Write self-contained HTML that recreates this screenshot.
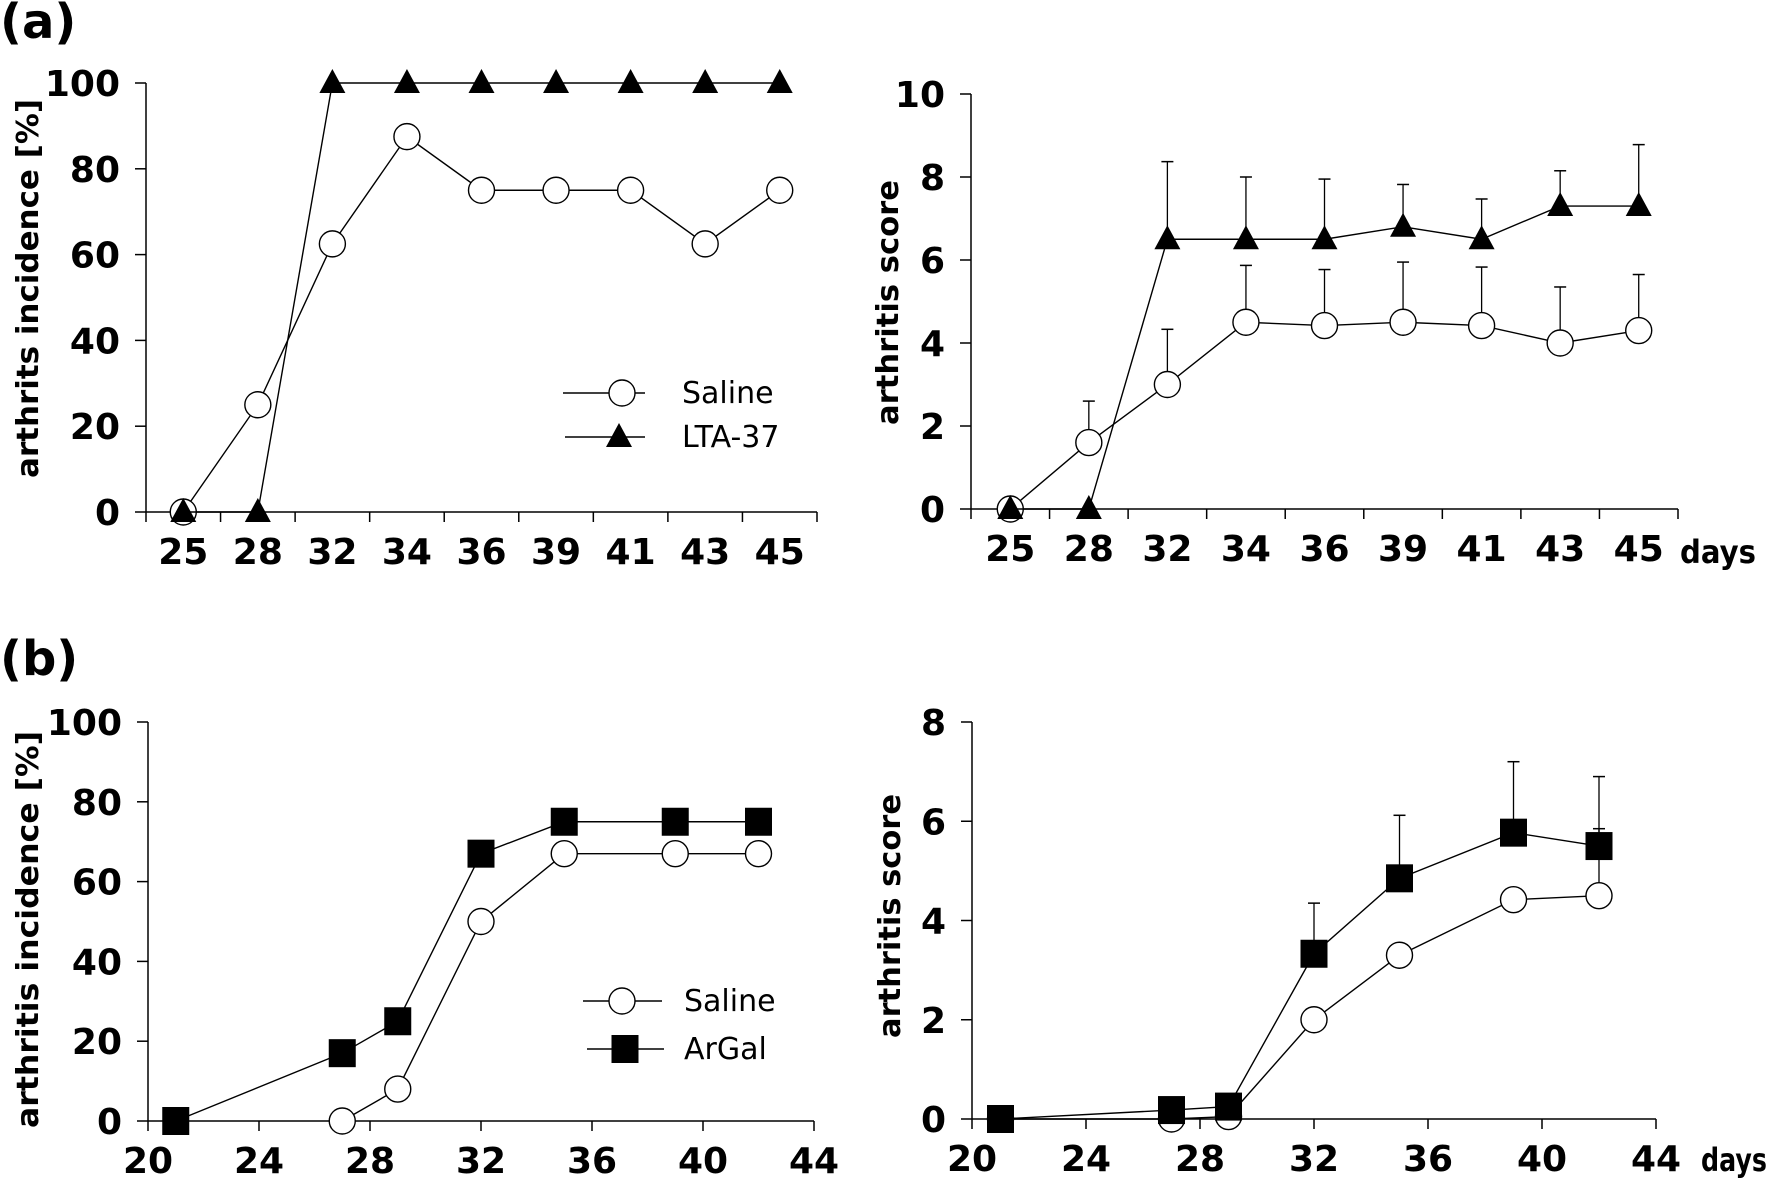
<!DOCTYPE html>
<html><head><meta charset="utf-8"><style>
html,body{margin:0;padding:0;background:#fff;overflow:hidden;}
svg{display:block;}
text{font-family:"DejaVu Sans","Liberation Sans",sans-serif;}
</style></head>
<body>
<svg id="fig" width="1775" height="1179" viewBox="0 0 1775 1179" xmlns="http://www.w3.org/2000/svg">
<text x="0" y="38" font-family="Liberation Sans, sans-serif" font-weight="bold" font-size="48">(a)</text>
<text x="0" y="675" font-family="Liberation Sans, sans-serif" font-weight="bold" font-size="48">(b)</text>
</svg>
<script>
// Panel a (categorical days)
const catDaysA = ['25','28','32','34','36','39','41','43','45'];
const incSalineA = [0,25,62.5,87.5,75,75,75,62.5,75];
const incLTA = [0,0,100,100,100,100,100,100,100];
const incTicksA = [0,20,40,60,80,100];
const scoreSalineA = [0,1.6,3.0,4.5,4.42,4.5,4.42,4.0,4.3];
const scoreSalineAErr = [null,2.6,4.33,5.87,5.77,5.95,5.83,5.35,5.65];
const scoreLTA = [0,0,6.5,6.5,6.5,6.8,6.5,7.3,7.3];
const scoreLTAErr = [null,null,8.37,8.0,7.95,7.82,7.47,8.15,8.78];
const scoreTicksA = [0,2,4,6,8,10];
// Panel b (numeric days)
const daysSalineB = [27,29,32,35,39,42];
const incSalineB = [0,8,50,67,67,67];
const daysArGal = [21,27,29,32,35,39,42];
const incArGal = [0,17,25,67,75,75,75];
const scoreSalineBDays = [21,27,29,32,35,39,42];
const scoreSalineB = [0,0,0.05,2.0,3.3,4.42,4.5];
const scoreSalineBErr = [null,null,null,null,null,null,5.85];
const scoreArGal = [0,0.18,0.25,3.33,4.85,5.77,5.5];
const scoreArGalErr = [null,null,null,4.35,6.12,7.2,6.9];
const dayTicksB = [20,24,28,32,36,40,44];
const incTicksB = [0,20,40,60,80,100];
const scoreTicksB = [0,2,4,6,8];

const NS='http://www.w3.org/2000/svg';
const svg=document.getElementById('fig');
function mk(tag,attrs,parent){const e=document.createElementNS(NS,tag);for(const k in attrs)e.setAttribute(k,attrs[k]);(parent||svg).appendChild(e);return e;}

function panel(cfg){
  const g=mk('g',{});
  
  
  const X0=cfg.x0,X1=cfg.x1,Y0=cfg.y0,Y1=cfg.y1;
  const ys=v=>Y0-(v-cfg.ymin)/(cfg.ymax-cfg.ymin)*(Y0-Y1);
  let xs;
  if(cfg.cats){const step=(X1-X0)/cfg.cats.length;xs=i=>X0+step*(i+0.5);}
  else{xs=d=>X0+(d-cfg.xmin)/(cfg.xmax-cfg.xmin)*(X1-X0);}
  const ya=mk('line',{x1:X0,y1:Y0,x2:X0,y2:Y1,stroke:'#000','stroke-width':1.5},g);
  
  
  const xa=mk('line',{x1:X0,y1:Y0,x2:X1,y2:Y0,stroke:'#000','stroke-width':1.5},g);
  
  
  cfg.yticks.forEach(v=>{
    mk('line',{x1:X0-11,y1:ys(v),x2:X0,y2:ys(v),stroke:'#000','stroke-width':1.5},g);
    const t=mk('text',{x:X0-26,y:ys(v)+13,'text-anchor':'end','font-weight':'bold','font-size':36},g);
    
    
    t.textContent=v;
  });
  if(cfg.cats){
    const step=(X1-X0)/cfg.cats.length;
    for(let i=0;i<=cfg.cats.length;i++)mk('line',{x1:X0+step*i,y1:Y0,x2:X0+step*i,y2:Y0+10,stroke:'#000','stroke-width':1.5},g);
    cfg.cats.forEach((c,i)=>{
      const t=mk('text',{x:xs(i),y:Y0+52,'text-anchor':'middle','font-weight':'bold','font-size':36},g);
      
      
      t.textContent=c;
    });
  } else {
    cfg.xticks.forEach(d=>{
      mk('line',{x1:xs(d),y1:Y0,x2:xs(d),y2:Y0+10,stroke:'#000','stroke-width':1.5},g);
      const t=mk('text',{x:xs(d),y:Y0+52,'text-anchor':'middle','font-weight':'bold','font-size':36},g);
      
      
      t.textContent=d;
    });
  }
  const tt=mk('text',{transform:`translate(${cfg.tx},${(cfg.ta+cfg.tb)/2}) rotate(-90)`,'text-anchor':'middle','font-weight':'bold','font-size':30,textLength:cfg.tb-cfg.ta,lengthAdjust:'spacingAndGlyphs',y:11},g);
  
  
  tt.textContent=cfg.title;
  if(cfg.days){
    const d=mk('text',{x:cfg.days[0],y:cfg.days[1],'font-weight':'bold','font-size':32,textLength:cfg.days[2],lengthAdjust:'spacingAndGlyphs'},g);
    
    
    d.textContent='days';
  }
  cfg.series.forEach(s=>{
    const px=s.x.map((d,i)=>cfg.cats?xs(i):xs(d));
    const py=s.y.map(v=>ys(v));
    if(s.err){s.err.forEach((e,i)=>{if(e==null)return;
      const l=mk('line',{x1:px[i],y1:py[i],x2:px[i],y2:ys(e),stroke:'#000','stroke-width':1.3},g);
      
      
      mk('line',{x1:px[i]-6,y1:ys(e),x2:px[i]+6,y2:ys(e),stroke:'#000','stroke-width':1.5},g);
    });}
    const pl=mk('polyline',{points:px.map((x,i)=>x+','+py[i]).join(' '),fill:'none',stroke:'#000','stroke-width':1.4},g);
    
    
    px.forEach((x,i)=>{marker(g,s.m,x,py[i],s.name+'-point');});
  });
  if(cfg.legend){cfg.legend.forEach(l=>{
    const lg=mk('g',{},g);
    
    
    mk('line',{x1:l.x1,y1:l.y,x2:l.x2,y2:l.y,stroke:'#000','stroke-width':1.4},lg);
    marker(lg,l.m,l.mx,l.y,'legend-marker');
    const t=mk('text',{x:l.tx,y:l.y+10,'font-family':'Liberation Sans, sans-serif','font-size':30},lg);
    t.textContent=l.label;
  });}
}
function marker(g,type,x,y,name){
  let e;
  if(type==='circle')e=mk('circle',{cx:x,cy:y,r:13,fill:'#fff',stroke:'#000','stroke-width':1.4},g);
  else if(type==='tri')e=mk('polygon',{points:`${x},${y-14} ${x+13},${y+10} ${x-13},${y+10}`,fill:'#000'},g);
  else e=mk('rect',{x:x-13.5,y:y-14,width:27,height:28,fill:'#000'},g);
  
  
}
panel({name:'chart-a-incidence',x0:146,x1:817,y0:512,y1:83,ymin:0,ymax:100,cats:catDaysA,yticks:incTicksA,
  title:'arthrits incidence [%]',tx:27,ta:99,tb:478,
  series:[{name:'saline',x:catDaysA,y:incSalineA,m:'circle'},{name:'lta-37',x:catDaysA,y:incLTA,m:'tri'}],
  legend:[{x1:563,x2:645,mx:622,y:393,m:'circle',tx:682,label:'Saline'},{x1:565,x2:645,mx:619,y:437,m:'tri',tx:682,label:'LTA-37'}]});
panel({name:'chart-a-score',x0:971,x1:1678,y0:509,y1:94,ymin:0,ymax:10,cats:catDaysA,yticks:scoreTicksA,
  title:'arthritis score',tx:887,ta:180,tb:425,days:[1680,563,76],
  series:[{name:'saline',x:catDaysA,y:scoreSalineA,err:scoreSalineAErr,m:'circle'},{name:'lta-37',x:catDaysA,y:scoreLTA,err:scoreLTAErr,m:'tri'}]});
panel({name:'chart-b-incidence',x0:148,x1:814,y0:1121,y1:722,ymin:0,ymax:100,xmin:20,xmax:44,xticks:dayTicksB,yticks:incTicksB,
  title:'arthritis incidence [%]',tx:27,ta:731,tb:1128,
  series:[{name:'saline',x:daysSalineB,y:incSalineB,m:'circle'},{name:'argal',x:daysArGal,y:incArGal,m:'square'}],
  legend:[{x1:583,x2:662,mx:622,y:1001,m:'circle',tx:684,label:'Saline'},{x1:587,x2:664,mx:625,y:1049,m:'square',tx:684,label:'ArGal'}]});
panel({name:'chart-b-score',x0:972,x1:1656,y0:1119,y1:722,ymin:0,ymax:8,xmin:20,xmax:44,xticks:dayTicksB,yticks:scoreTicksB,
  title:'arthritis score',tx:889,ta:794,tb:1038,days:[1701,1171,66],
  series:[{name:'saline',x:scoreSalineBDays,y:scoreSalineB,err:scoreSalineBErr,m:'circle'},{name:'argal',x:scoreSalineBDays,y:scoreArGal,err:scoreArGalErr,m:'square'}]});
</script>
</body></html>
